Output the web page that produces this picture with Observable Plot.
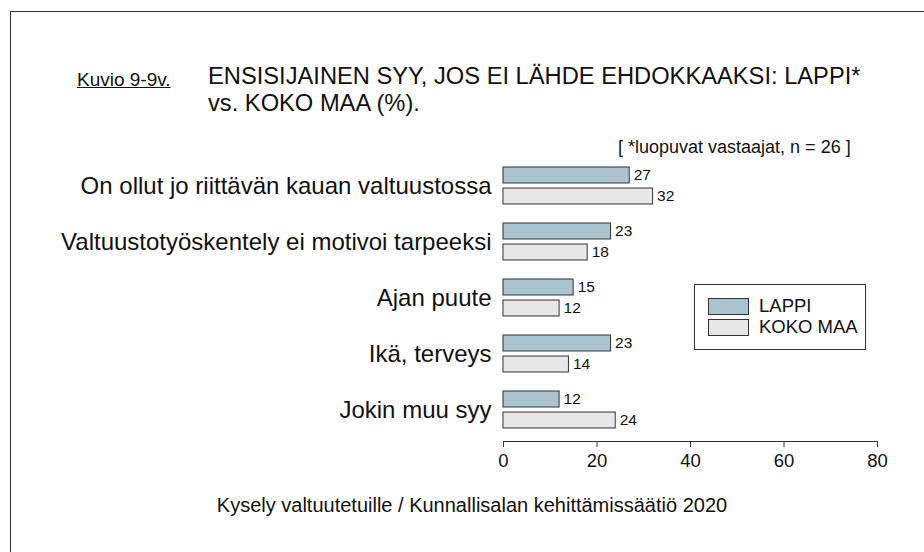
<!DOCTYPE html>
<html>
<head>
<meta charset="utf-8">
<script src="https://cdn.jsdelivr.net/npm/d3@7"></script>
<script src="https://cdn.jsdelivr.net/npm/@observablehq/plot@0.6"></script>
<style>
  html, body { margin: 0; padding: 0; background: #fff; }
  #wrap { position: relative; width: 924px; height: 552px; overflow: hidden; font-family: "Liberation Sans", Arial, sans-serif; color: #111; }
  #border { position: absolute; left: 10px; top: 11px; width: 1000px; height: 600px; border: 1px solid #333; box-sizing: border-box; }
  #plot { position: absolute; left: 0; top: 0; }
  .abs { position: absolute; white-space: nowrap; }
  #kuvio { left: 77px; top: 70px; font-size: 19px; line-height: 19px; text-decoration: underline; }
  #title { left: 208px; top: 63px; font-size: 23.7px; line-height: 27px; }
  #note { left: 618px; top: 138px; font-size: 18px; line-height: 18px; }
  #caption { left: 0; width: 944px; text-align: center; top: 495px; font-size: 20px; line-height: 20px; }
  #legend { left: 694px; top: 284px; width: 172px; height: 66px; border: 1px solid #333; box-sizing: border-box; background: #fff; }
  .sw { position: absolute; left: 13px; width: 41px; height: 17px; border: 1px solid #333; box-sizing: border-box; }
  .lt { position: absolute; left: 64px; font-size: 18.5px; line-height: 18px; }
</style>
</head>
<body>
<div id="wrap">
  <div id="border"></div>
  <div id="plot"></div>
  <div class="abs" id="kuvio">Kuvio 9-9v.</div>
  <div class="abs" id="title">ENSISIJAINEN SYY, JOS EI LÄHDE EHDOKKAAKSI: LAPPI*<br>vs. KOKO MAA (%).</div>
  <div class="abs" id="note">[ *luopuvat vastaajat, n = 26 ]</div>
  <div class="abs" id="legend"></div>
  <div class="abs" id="caption">Kysely valtuutetuille / Kunnallisalan kehittämissäätiö 2020</div>
</div>
<script>
const categories = [
  "On ollut jo riittävän kauan valtuustossa",
  "Valtuustotyöskentely ei motivoi tarpeeksi",
  "Ajan puute",
  "Ikä, terveys",
  "Jokin muu syy"
];
const seriesNames = ["LAPPI", "KOKO MAA"];
const lappi = [27, 23, 15, 23, 12];
const kokoMaa = [32, 18, 12, 14, 24];
const colors = ["#a9c4cc", "#e8e8e8"];
const xTicks = [0, 20, 40, 60, 80];

const lappiData = categories.map((c, i) => ({category: c, value: lappi[i]}));
const kokoData = categories.map((c, i) => ({category: c, value: kokoMaa[i]}));

const font = "Liberation Sans, Arial, sans-serif";

const chart = Plot.plot({
  width: 924,
  height: 552,
  marginLeft: 503,
  marginRight: 47,
  marginTop: 155,
  marginBottom: 111,
  style: {fontFamily: font, color: "#111", background: "transparent"},
  x: {domain: [0, 80], ticks: xTicks},
  y: {domain: categories, paddingInner: 19 / 57, paddingOuter: 10 / 57},
  marks: [
    Plot.barX(lappiData, {x: "value", y: "category", fill: colors[0], stroke: "#333", strokeWidth: 1, insetBottom: 21}),
    Plot.barX(kokoData, {x: "value", y: "category", fill: colors[1], stroke: "#333", strokeWidth: 1, insetTop: 21}),
    Plot.text(lappiData, {x: "value", y: "category", text: d => String(d.value), dy: -10.5, dx: 4, textAnchor: "start", fontSize: 15.5, fill: "#111"}),
    Plot.text(kokoData, {x: "value", y: "category", text: d => String(d.value), dy: 10.5, dx: 4, textAnchor: "start", fontSize: 15.5, fill: "#111"}),
    Plot.axisY({tickSize: 0, tickPadding: 12, fontSize: 24, label: null}),
    Plot.axisX({ticks: xTicks, tickSize: 6, tickPadding: 6, fontSize: 18.5, label: null, stroke: "#333"}),
    Plot.frame({anchor: "bottom", stroke: "#333"})
  ]
});
document.getElementById("plot").appendChild(chart);

const legend = document.getElementById("legend");
seriesNames.forEach((name, i) => {
  const sw = document.createElement("div");
  sw.className = "sw";
  sw.style.top = (13 + i * 21) + "px";
  sw.style.background = colors[i];
  legend.appendChild(sw);
  const t = document.createElement("div");
  t.className = "lt";
  t.style.top = (12 + i * 21) + "px";
  t.textContent = name;
  legend.appendChild(t);
});
</script>
</body>
</html>
